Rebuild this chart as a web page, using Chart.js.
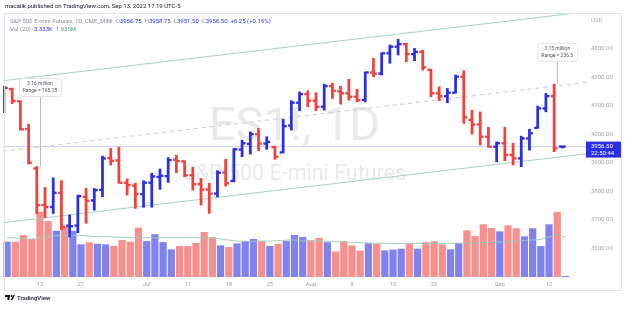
<!DOCTYPE html>
<html><head><meta charset="utf-8">
<script src="https://cdn.jsdelivr.net/npm/chart.js@4.4.1/dist/chart.umd.min.js"></script>
<style>html,body{margin:0;padding:0;background:#fff;overflow:hidden}canvas{display:block}</style>
</head><body>
<canvas id="c" width="625" height="309"></canvas>
<script>
// ---------- DATA ----------
const DATES = ['2022-06-07','2022-06-08','2022-06-09','2022-06-10','2022-06-13','2022-06-14','2022-06-15','2022-06-16','2022-06-17','2022-06-21',
'2022-06-22','2022-06-23','2022-06-24','2022-06-27','2022-06-28','2022-06-29','2022-06-30','2022-07-01','2022-07-05','2022-07-06',
'2022-07-07','2022-07-08','2022-07-11','2022-07-12','2022-07-13','2022-07-14','2022-07-15','2022-07-18','2022-07-19','2022-07-20',
'2022-07-21','2022-07-22','2022-07-25','2022-07-26','2022-07-27','2022-07-28','2022-07-29','2022-08-01','2022-08-02','2022-08-03',
'2022-08-04','2022-08-05','2022-08-08','2022-08-09','2022-08-10','2022-08-11','2022-08-12','2022-08-15','2022-08-16','2022-08-17',
'2022-08-18','2022-08-19','2022-08-22','2022-08-23','2022-08-24','2022-08-25','2022-08-26','2022-08-29','2022-08-30','2022-08-31',
'2022-09-01','2022-09-02','2022-09-06','2022-09-07','2022-09-08','2022-09-09','2022-09-12','2022-09-13','2022-09-14'];

const OPEN = [4100,4158,4115,4018,3880,3752,3745,3795,3680,3680,
3780,3768,3805,3916,3908,3830,3820,3790,3830,3850,
3853,3910,3905,3856,3825,3806,3792,3866,3836,3946,
3966,4000,3967,3955,3936,4030,4110,4140,4117,4096,
4168,4150,4143,4131,4120,4216,4212,4283,4306,4315,
4280,4288,4225,4143,4133,4145,4201,4050,4034,3991,
3956,3968,3927,3915,3985,4022,4090,4133,3956.75];

const HIGH = [4168,4161,4117,4035,3887,3813,3847,3837,3717,3787,
3810,3810,3923,3950,3954,3843,3828,3837,3863,3878,
3918,3926,3907,3884,3845,3828,3872,3912,3950,3979,
4008,4020,3991,3958,4052,4117,4148,4152,4145,4175,
4178,4168,4192,4157,4218,4265,4285,4312,4332,4318,
4300,4294,4227,4166,4160,4207,4222,4084,4078,4024,
3973,4024,3968,3993,4017,4098,4143,4175,3958.75];

const LOW = [4075,4107,4014,3895,3721.75,3707,3722,3666,3640,3655,
3688,3734,3781,3892,3828,3787,3740,3744,3744,3807,
3831,3865,3851,3804,3752,3723,3780,3818,3833,3921,
3930,3942,3947,3912,3934,4014,4082,4096,4082,4084,
4125,4105,4119,4113,4113,4201,4207,4248,4277,4253,
4257,4224,4131,4117,4110,4143,4038,4000,3962,3954,
3903,3907,3892,3886,3944,4020,4078,3938.5,3951.5];

const CLOSE = [4162,4116,4017,3900,3751,3745,3795,3676,3678,3783,
3767,3804,3915,3907,3830,3822,3790,3830,3852,3854,
3909,3906,3856,3825,3806,3792,3865,3828,3947,3968,
4000,3967,3973,3921,4028,4110,4140,4117,4096,4168,
4152,4143,4131,4119,4216,4211,4283,4306,4315,4280,
4288,4234,4143,4133,4145,4201,4059,4034,3991,3956,
3968,3927,3915,3985,4003,4090,4133,3950.25,3956.5];

// volume in millions of contracts
const VOLUME_M = [1.71,1.71,2.03,1.84,3.16,2.71,2.24,2.47,2.23,1.58,
1.68,1.61,1.58,1.50,1.79,1.71,2.39,1.74,2.07,1.69,
1.34,1.50,1.50,1.65,2.18,1.92,1.53,1.45,1.63,1.74,
1.84,1.74,1.50,1.60,1.74,2.03,1.94,1.78,1.89,1.68,
1.24,1.73,1.53,1.28,1.63,1.60,1.29,1.33,1.37,1.62,
1.37,1.69,1.73,1.58,1.34,1.65,2.26,1.98,2.55,2.37,
2.21,2.50,2.36,1.97,2.36,1.50,2.55,3.15,0.003333];

// 20-day volume average (millions)
const VOL_MA_M = [1.91,1.89,1.86,1.84,1.89,1.96,2.00,2.02,2.02,2.01,
1.98,1.96,1.95,1.94,1.92,1.90,1.90,1.90,1.90,1.90,
1.90,1.90,1.90,1.90,1.90,1.89,1.84,1.79,1.74,1.73,
1.73,1.74,1.74,1.76,1.78,1.79,1.74,1.73,1.73,1.73,
1.71,1.69,1.68,1.66,1.65,1.63,1.63,1.62,1.62,1.62,
1.62,1.62,1.62,1.63,1.63,1.63,1.63,1.65,1.67,1.69,
1.69,1.71,1.74,1.77,1.79,1.82,1.94,2.03,1.935];

const X_TICKS = [['2022-06-13','13'],['2022-06-21','21'],['2022-07-01','Jul'],['2022-07-11','11'],['2022-07-18','18'],
['2022-07-25','25'],['2022-08-01','Aug'],['2022-08-08','8'],['2022-08-15','15'],['2022-08-22','22'],['2022-09-01','Sep'],['2022-09-12','12']];
const PRICE_TICKS = [3600,3700,3800,3900,4000,4100,4200,4300];

// parallel channel drawn by the author (bar index, price)
const CHANNEL_UPPER = [[-0.5,4187],[70.5,4428]];
const CHANNEL_MID   = [[-0.5,3940],[70.5,4181]];
const CHANNEL_LOWER = [[-0.5,3690],[70.5,3931]];

// callouts: bar date, text lines, price level of the label box
const CALLOUTS = [
  {date:'2022-06-13', lines:['3.16 million','Range = 165.25'], labelPrice:4165, w:42},
  {date:'2022-09-13', lines:['3.15 million','Range = 236.5'], labelPrice:4288, w:40}
];
const HEADER = 'macalik published on TradingView.com, Sep 13, 2022 17:19 UTC-5';
const SYMBOL_NAME = 'S&P 500 E-mini Futures, 1D, CME_MINI';
const WATERMARK = ['ES1!, 1D','S&P 500 E-mini Futures'];
const LAST_TIME = '22:50:44';

// ---------- STYLE ----------
const FONT = 'Roboto, "Liberation Sans", sans-serif';
const UP = '#2b2fe3', DOWN = '#f2403a';
const UP_VOL = 'rgba(43,47,227,0.6)', DOWN_VOL = 'rgba(242,64,58,0.58)';
const TEAL = '#a6d2c2';
const TICK_HALF = 2.9; // half thickness of open/close ticks, price units

const N = DATES.length;
const last = N - 1;
const isUp = CLOSE.map((c,i) => c >= (i ? CLOSE[i-1] : OPEN[i]));
const barColors = isUp.map(u => u ? UP : DOWN);
const volColors = isUp.map(u => u ? UP_VOL : DOWN_VOL);
const labels = DATES.concat([' ', '  ']); // right margin slots
const X_MIN = -0.5, X_MAX = labels.length - 0.5;
const tickMap = Object.fromEntries(X_TICKS);
const toXY = arr => arr.map(([x,y]) => ({x, y}));

const ohlc = {type:'bar', xAxisID:'x', yAxisID:'y', barThickness:2.1, borderWidth:0, order:0, grouped:true, backgroundColor:barColors};

const decor = {
  id:'decor',
  beforeDatasetsDraw(chart){
    const {ctx, chartArea:a} = chart;
    ctx.save();
    ctx.fillStyle = 'rgba(120,123,134,0.17)';
    ctx.textAlign = 'center'; ctx.textBaseline = 'alphabetic';
    const cx = (a.left + a.right) / 2;
    ctx.font = '47px ' + FONT;
    ctx.fillText(WATERMARK[0], cx, a.top + 127);
    ctx.font = '21.5px ' + FONT;
    ctx.fillText(WATERMARK[1], cx, a.top + 167);
    ctx.restore();
  },
  afterDatasetsDraw(chart){
    const {ctx, chartArea:a, scales} = chart;
    const x = scales.x, y = scales.y;
    ctx.save();
    // callouts
    CALLOUTS.forEach(c => {
      const i = DATES.indexOf(c.date);
      const px = x.getPixelForValue(i);
      const cy = y.getPixelForValue(c.labelPrice);
      const h = 18, w = c.w;
      ctx.strokeStyle = '#b8bbc3'; ctx.lineWidth = 1;
      ctx.beginPath(); ctx.moveTo(Math.round(px)+0.5, cy + h/2); ctx.lineTo(Math.round(px)+0.5, y.getPixelForValue(HIGH[i])); ctx.stroke();
      ctx.fillStyle = '#fff'; ctx.strokeStyle = '#e0e3eb';
      ctx.beginPath(); ctx.roundRect(px - w/2 + 0.5, cy - h/2 + 0.5, w, h, 3); ctx.fill(); ctx.stroke();
      ctx.fillStyle = '#50535e'; ctx.font = '5px ' + FONT; ctx.textAlign = 'center'; ctx.textBaseline = 'middle';
      ctx.fillText(c.lines[0], px, cy - 3.3);
      ctx.fillText(c.lines[1], px, cy + 3.7);
    });
    // last price label
    const py = y.getPixelForValue(CLOSE[last]);
    ctx.fillStyle = '#2b2fe3';
    ctx.fillRect(a.right, py - 5, 36, 16);
    ctx.fillStyle = '#fff'; ctx.font = '6px ' + FONT; ctx.textAlign = 'left'; ctx.textBaseline = 'middle';
    ctx.fillText(CLOSE[last].toFixed(2), a.right + 5, py - 0.5);
    ctx.fillText(LAST_TIME, a.right + 5, py + 6.5);
    ctx.restore();
  },
  afterDraw(chart){
    const {ctx, chartArea:a} = chart;
    ctx.save();
    // frame
    ctx.strokeStyle = '#e0e3eb'; ctx.lineWidth = 1;
    ctx.strokeRect(4.5, 13.5, 617, 277);
    // header
    ctx.fillStyle = '#131722'; ctx.font = '6px ' + FONT; ctx.textBaseline = 'middle'; ctx.textAlign = 'left';
    ctx.fillText(HEADER, 5, 6.5);
    // legend
    const runs = (x0, yy, parts) => { let xx = x0; parts.forEach(([t, col, gap]) => { ctx.fillStyle = col; ctx.fillText(t, xx, yy); xx += ctx.measureText(t).width + (gap || 0); }); };
    const G = '#8a8d97', B = '#2b2fe3';
    const chg = CLOSE[last] - CLOSE[last-1];
    const pct = chg / CLOSE[last-1] * 100;
    runs(10, 21, [[SYMBOL_NAME, G, 3], ['O', G], [OPEN[last].toFixed(2), B, 3], ['H', G], [HIGH[last].toFixed(2), B, 3],
      ['L', G], [LOW[last].toFixed(2), B, 3], ['C', G], [CLOSE[last].toFixed(2), B, 3],
      [(chg>=0?'+':'') + chg.toFixed(2) + ' (' + (pct>=0?'+':'') + pct.toFixed(2) + '%)', B]]);
    runs(10, 29.5, [['Vol (20)', G, 3], [(VOLUME_M[last]*1000).toFixed(3) + 'K', B, 3], [VOL_MA_M[last].toFixed(3) + 'M', '#3f9f7f']]);
    // currency label
    ctx.fillStyle = '#a3a6af'; ctx.fillText('USD', a.right + 5, 20.5);
    // TradingView logo + text
    ctx.fillStyle = '#131722';
    ctx.fillRect(5, 295, 5, 2); ctx.fillRect(7.5, 295, 2, 5);
    ctx.beginPath(); ctx.arc(11.5, 296, 1, 0, Math.PI*2); ctx.fill();
    ctx.beginPath(); ctx.moveTo(10.5, 300); ctx.lineTo(13.5, 295); ctx.lineTo(15, 295); ctx.lineTo(12.5, 300); ctx.closePath(); ctx.fill();
    ctx.font = '500 6px ' + FONT; ctx.fillText('TradingView', 17, 298);
    ctx.restore();
  }
};

Chart.defaults.font.family = FONT;
new Chart(document.getElementById('c'), {
  type:'bar',
  data:{
    labels,
    datasets:[
      {...ohlc, label:'Open', data: OPEN.map(o => [o - TICK_HALF, o + TICK_HALF])},
      {...ohlc, label:'High-Low', data: LOW.map((l,i) => [l, HIGH[i]])},
      {...ohlc, label:'Close', data: CLOSE.map(c => [c - TICK_HALF, c + TICK_HALF])},
      {type:'line', label:'Vol MA 20', xAxisID:'x', yAxisID:'yv', data: VOL_MA_M, borderColor:'#9dcab8', borderWidth:1, pointRadius:0, tension:0.4, order:2},
      {type:'line', label:'Last price', xAxisID:'xl', yAxisID:'y', data: toXY([[X_MIN, CLOSE[last]],[X_MAX, CLOSE[last]]]), borderColor:'#cfd0f8', borderWidth:1, pointRadius:0, order:4},
      {type:'line', label:'Channel upper', xAxisID:'xl', yAxisID:'y', data: toXY(CHANNEL_UPPER), borderColor:TEAL, borderWidth:1, pointRadius:0, order:3},
      {type:'line', label:'Channel mid', xAxisID:'xl', yAxisID:'y', data: toXY(CHANNEL_MID), borderColor:'#c6c9cf', borderDash:[4,4], borderWidth:1, pointRadius:0, order:3},
      {type:'line', label:'Channel lower', xAxisID:'xl', yAxisID:'y', data: toXY(CHANNEL_LOWER), borderColor:TEAL, borderWidth:1, pointRadius:0, order:3},
      {type:'bar', label:'Volume', xAxisID:'x', yAxisID:'yv', data: VOLUME_M, grouped:false, categoryPercentage:1, barPercentage:0.88, backgroundColor: volColors, borderWidth:0, minBarLength:1, order:10}
    ]
  },
  options:{
    responsive:false, animation:false, devicePixelRatio:1,
    layout:{padding:{left:3, right:4, top:13, bottom:19}},
    plugins:{legend:{display:false}, tooltip:{enabled:false}},
    scales:{
      x:{type:'category', position:'bottom', offset:true, grid:{display:false, drawTicks:false}, border:{display:false},
         ticks:{autoSkip:false, maxRotation:0, padding:4, color:'#a0a3ab', font:{size:6},
           callback(v, i){ const l = this.getLabelForValue(v); return tickMap[l] ?? null; }},
         afterFit(s){ s.height = 13; }},
      xl:{type:'linear', display:false, min:X_MIN, max:X_MAX, offset:false},
      y:{type:'linear', position:'right', min:3500, max:4424, grid:{display:false, drawTicks:false}, border:{display:false},
         ticks:{padding:5, color:'#a3a6af', font:{size:6}, callback:v => Number(v).toFixed(2)},
         afterBuildTicks(s){ s.ticks = PRICE_TICKS.map(v => ({value:v})); },
         afterFit(s){ s.width = 35; }},
      yv:{type:'linear', display:false, min:0, max:12.78}
    }
  },
  plugins:[decor]
});
</script>
</body></html>
